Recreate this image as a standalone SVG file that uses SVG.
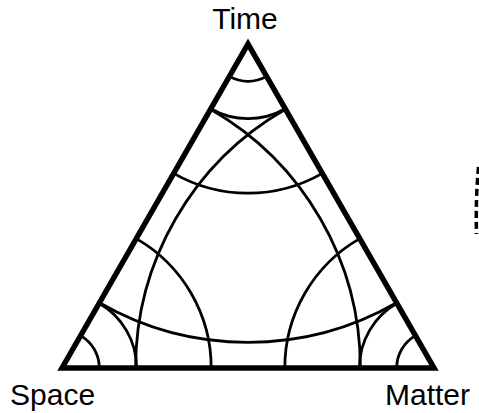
<svg xmlns="http://www.w3.org/2000/svg" width="479" height="413" viewBox="0 0 479 413">
<style>
.arc{fill:none;stroke:#000;stroke-width:2.8}
.tri{fill:none;stroke:#000;stroke-width:5.5;stroke-linejoin:miter;stroke-miterlimit:10}
.lbl{font-family:"Liberation Sans",Arial,sans-serif;font-size:30px;fill:#000}
.dash{fill:none;stroke:#000;stroke-width:3.5;stroke-dasharray:7 4}
</style>
<rect width="479" height="413" fill="#fff"/>
<g id="connectors">
<g id="arcs-time">
<path class="arc" d="M229.43,76.35 A37.3,37.3 0 0 0 266.57,76.35"/>
<path class="arc" d="M210.86,108.7 A74.6,74.6 0 0 0 285.14,108.7"/>
<path class="arc" d="M173.71,173.4 A149.2,149.2 0 0 0 322.29,173.4"/>
<path class="arc" d="M99.43,302.8 A298.4,298.4 0 0 0 396.57,302.8"/>
</g>
<g id="arcs-space">
<path class="arc" d="M80.57,335.65 A37.3,37.3 0 0 1 99.3,368"/>
<path class="arc" d="M99.14,303.3 A74.6,74.6 0 0 1 136.6,368"/>
<path class="arc" d="M136.29,238.6 A149.2,149.2 0 0 1 211.2,368"/>
<path class="arc" d="M210.57,109.2 A298.4,298.4 0 0 1 360.4,368"/>
</g>
<g id="arcs-matter">
<path class="arc" d="M396.7,368 A37.3,37.3 0 0 1 415.43,335.65"/>
<path class="arc" d="M359.4,368 A74.6,74.6 0 0 1 396.86,303.3"/>
<path class="arc" d="M284.8,368 A149.2,149.2 0 0 1 359.71,238.6"/>
<path class="arc" d="M135.6,368 A298.4,298.4 0 0 1 285.43,109.2"/>
</g>
</g>
<g id="triangle">
<path class="tri" d="M62,368 L248,44 L434,368 Z"/>
</g>
<g id="node-time"><text class="lbl" x="245" y="29" text-anchor="middle">Time</text></g>
<g id="node-space"><text class="lbl" x="10" y="405">Space</text></g>
<g id="node-matter"><text class="lbl" x="470" y="405" text-anchor="end">Matter</text></g>
<path class="dash" d="M478.5,167 Q475.5,200 476.5,234"/>
</svg>
